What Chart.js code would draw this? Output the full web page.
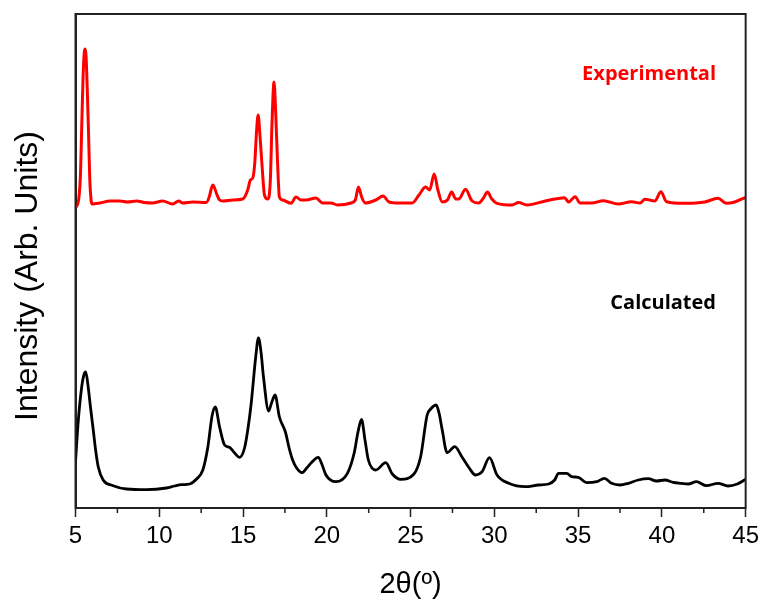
<!DOCTYPE html>
<html>
<head>
<meta charset="utf-8">
<script src="https://cdn.jsdelivr.net/npm/chart.js@4.4.1/dist/chart.umd.min.js"></script>
<style>
  body { margin: 0; background: #fff; }
  canvas { display: block; }
</style>
</head>
<body>
<canvas id="xrdChart" width="764" height="603"></canvas>
<script>
// 2theta positions and intensities (arbitrary units)
const expTheta = [5.00, 5.20, 5.30, 5.37, 5.45, 5.52, 5.57, 5.63, 5.70, 5.77, 5.85, 5.93, 6.00,
    6.46, 7.06, 7.65, 8.10, 8.66, 9.10, 9.60, 10.20, 10.80, 11.16, 11.40, 12.00, 12.80,
    13.00, 13.10, 13.20, 13.30, 13.45, 13.60, 13.80, 14.39, 14.98, 15.28, 15.44, 15.58,
    15.70, 15.80, 15.90, 16.00, 16.14, 16.28, 16.47, 16.63, 16.72, 16.85, 16.95, 17.05,
    17.17, 17.37, 17.87, 18.16, 18.46, 18.76, 19.35, 19.75, 20.25, 20.64, 21.44, 21.70,
    21.89, 22.08, 22.29, 22.92, 23.36, 23.71, 24.31, 25.10, 25.50, 25.90, 26.14, 26.41,
    26.63, 26.89, 27.20, 27.45, 27.70, 27.88, 28.28, 28.67, 29.07, 29.35, 29.59, 29.85,
    30.16, 31.05, 31.45, 31.94, 33.04, 33.63, 33.93, 34.19, 34.43, 34.82, 35.12, 35.81,
    36.51, 37.40, 38.19, 38.69, 38.99, 39.58, 39.94, 40.28, 41.37, 42.56, 43.35, 43.85,
    44.35, 45.00];
const expIntensity = [300, 310, 335, 380, 430, 455, 459, 452, 420, 380, 330, 308, 304,
    305, 307, 307, 306, 307, 305.5, 305, 307, 304, 307, 305, 306, 305.5,
    312, 319, 323, 320, 313, 308, 307, 308, 309, 318, 328, 330,
    345, 375, 393, 375, 341, 313, 309, 328, 380, 426, 395, 350,
    311, 308, 304.7, 311, 308, 308, 310, 305, 305, 303, 305, 308,
    321, 311, 305, 308, 312, 306, 305, 305, 313, 321, 318, 334,
    318, 306, 308, 316, 309, 309, 318.7, 307, 305, 310, 316, 309,
    304.7, 303, 305.5, 303, 307, 309, 309.7, 310.3, 306, 311.3, 305, 305,
    307.3, 304, 306.3, 305, 308.7, 307, 316.3, 306.3, 304.7, 306, 309.7, 304.7,
    306, 310.7];

const calcTheta = [5.00, 5.17, 5.37, 5.50, 5.61, 5.75, 5.90, 6.06, 6.20, 6.36, 6.65, 7.25,
    8.05, 9.24, 10.43, 10.92, 11.32, 11.81, 12.21, 12.60, 12.90, 13.15, 13.34, 13.60,
    13.90, 14.19, 14.50, 14.79, 15.09, 15.30, 15.49, 15.75, 15.92, 16.08, 16.22, 16.53,
    16.70, 16.91, 17.17, 17.53, 17.75, 17.96, 18.20, 18.52, 18.80, 19.06, 19.49, 19.70,
    19.95, 20.54, 21.23, 21.63, 21.85, 22.07, 22.28, 22.48, 22.92, 23.52, 23.91, 24.41,
    25.20, 25.60, 25.99, 26.20, 26.53, 26.70, 26.89, 27.18, 27.64, 28.08, 28.50, 28.87,
    29.27, 29.71, 30.16, 30.86, 31.85, 32.64, 33.24, 33.60, 33.83, 34.32, 34.62, 35.02,
    35.51, 36.11, 36.57, 37.00, 37.50, 38.00, 38.59, 39.19, 39.68, 40.18, 40.67, 41.17,
    41.57, 42.06, 42.66, 43.35, 43.95, 44.50, 45.00];
const calcIntensity = [46, 88, 121, 133, 136, 122, 100, 78, 58, 41, 28, 22.3,
    19, 18.3, 20, 22, 23.3, 24, 28.7, 38, 61, 92, 101, 81,
    63, 60.7, 55, 50.7, 60, 80, 105, 150, 170, 155, 131, 97,
    105, 113, 91, 76, 60, 48, 40, 35.3, 40, 45, 50.7, 44,
    33, 26.3, 34.7, 54.7, 75, 88.7, 68, 48, 38, 45.3, 34, 28.7,
    34, 51.3, 93, 99, 103, 95, 78, 55.3, 61.3, 50.7, 40, 33,
    36.3, 50.3, 33, 24.7, 21.3, 23, 24, 28, 34.7, 34.7, 31.3, 30.7,
    25.3, 26.3, 29.7, 24.7, 23, 24.7, 28, 29.3, 27, 28, 25.7, 24.7,
    24, 26.3, 22.3, 24.7, 22, 24, 28.7];

// where the two series names sit, in data units
const labelTexts = ["Experimental", "Calculated"];
const labelTheta = [43.23, 43.23];
const labelIntensity = [428, 199];
const labelColors = ["#ff0000", "#000000"];

const toPoints = (xs, ys) => xs.map((x, i) => ({ x: x, y: ys[i] }));

const fontFamily = "'Liberation Sans', Arial, sans-serif";

const extrasPlugin = {
    id: "extras",
    afterDraw(chart) {
        const ctx = chart.ctx;
        const area = chart.chartArea;
        const xs = chart.scales.x;
        const ys = chart.scales.y;
        ctx.save();

        // frame round the plot
        ctx.strokeStyle = "#222";
        ctx.lineWidth = 2;
        ctx.strokeRect(area.left, area.top, area.right - area.left, area.bottom - area.top);

        // minor ticks
        ctx.lineWidth = 1.5;
        ctx.beginPath();
        for (let v = 7.5; v < 45; v += 5) {
            const px = xs.getPixelForValue(v);
            ctx.moveTo(px, area.bottom);
            ctx.lineTo(px, area.bottom + 5);
        }
        ctx.stroke();

        // series names
        ctx.font = "bold 20px 'Open Sans', sans-serif";
        ctx.textAlign = "right";
        ctx.textBaseline = "alphabetic";
        labelTexts.forEach((t, i) => {
            ctx.fillStyle = labelColors[i];
            ctx.fillText(t, xs.getPixelForValue(labelTheta[i]), ys.getPixelForValue(labelIntensity[i]));
        });

        // y axis title
        ctx.fillStyle = "#000";
        ctx.font = "32px " + fontFamily;
        ctx.textAlign = "center";
        ctx.textBaseline = "middle";
        ctx.translate(28, 276);
        ctx.rotate(-Math.PI / 2);
        ctx.fillText("Intensity (Arb. Units)", 0, 0);
        ctx.restore();
    }
};

new Chart(document.getElementById("xrdChart"), {
    type: "line",
    data: {
        datasets: [
            {
                label: "Experimental",
                data: toPoints(expTheta, expIntensity),
                borderColor: "#ff0000",
                borderWidth: 3,
                pointRadius: 0,
                cubicInterpolationMode: "monotone",
                fill: false
            },
            {
                label: "Calculated",
                data: toPoints(calcTheta, calcIntensity),
                borderColor: "#000000",
                borderWidth: 2.8,
                pointRadius: 0,
                cubicInterpolationMode: "monotone",
                fill: false
            }
        ]
    },
    options: {
        responsive: false,
        animation: false,
        layout: {
            autoPadding: false,
            padding: { top: 14, right: 16.5, left: 0, bottom: 0 }
        },
        plugins: {
            legend: { display: false },
            tooltip: { enabled: false }
        },
        scales: {
            x: {
                type: "linear",
                min: 5,
                max: 45,
                afterFit(scale) { scale.height = 95; },
                ticks: {
                    stepSize: 5,
                    padding: 5,
                    color: "#000",
                    font: { family: fontFamily, size: 24 }
                },
                grid: {
                    drawOnChartArea: false,
                    tickLength: 9,
                    tickWidth: 1.5,
                    tickColor: "#222"
                },
                border: { color: "#222", width: 2 },
                title: {
                    display: true,
                    text: "2θ(º)",
                    color: "#000",
                    font: { family: fontFamily, size: 29 },
                    padding: { top: 0, bottom: 1 }
                }
            },
            y: {
                min: 0,
                max: 494,
                afterFit(scale) { scale.width = 75.5; },
                ticks: { display: false },
                grid: { display: false },
                border: { color: "#222", width: 2 }
            }
        }
    },
    plugins: [extrasPlugin]
});
</script>
</body>
</html>
